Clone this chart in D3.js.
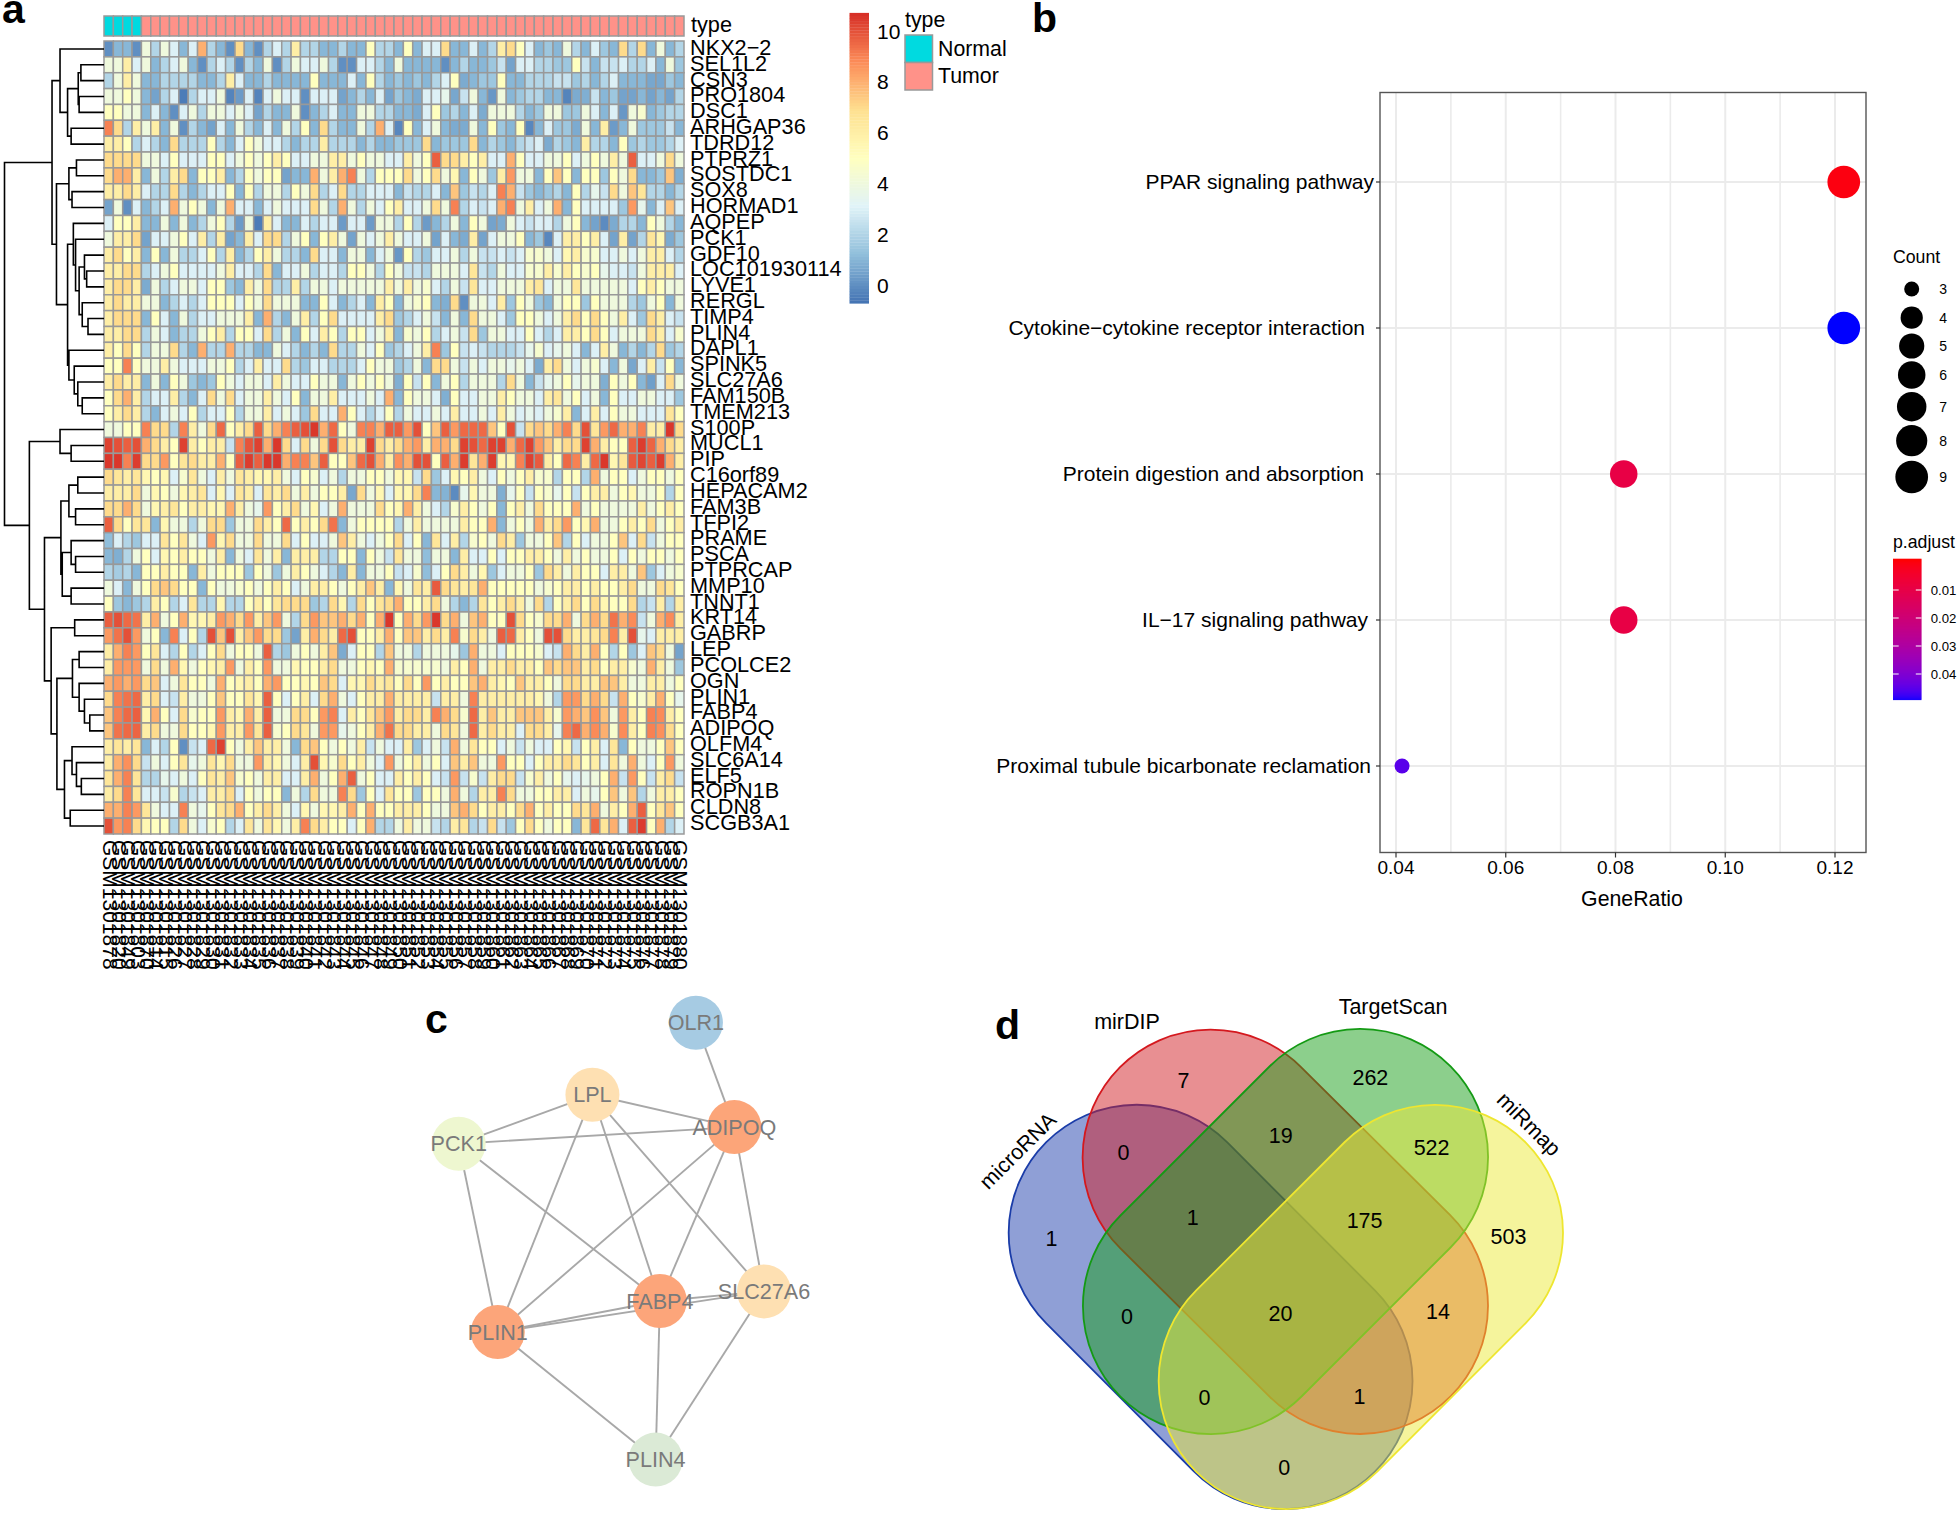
<!DOCTYPE html>
<html><head><meta charset="utf-8"><script src="https://cdn.jsdelivr.net/npm/d3@7"></script>
<style>html,body{margin:0;background:#fff}svg{display:block}text{font-family:"Liberation Sans",Arial,sans-serif}</style></head>
<body><svg id="c" width="1959" height="1516"></svg>
<script>
// ---------- panel a data ----------
const genes=["NKX2−2","SEL1L2","CSN3","PRO1804","DSC1","ARHGAP36","TDRD12","PTPRZ1","SOSTDC1","SOX8","HORMAD1","AQPEP","PCK1","GDF10","LOC101930114","LYVE1","RERGL","TIMP4","PLIN4","DAPL1","SPINK5","SLC27A6","FAM150B","TMEM213","S100P","MUCL1","PIP","C16orf89","HEPACAM2","FAM3B","TFPI2","PRAME","PSCA","PTPRCAP","MMP10","TNNT1","KRT14","GABRP","LEP","PCOLCE2","OGN","PLIN1","FABP4","ADIPOQ","OLFM4","SLC6A14","ELF5","ROPN1B","CLDN8","SCGB3A1"];
const sampleSuffix=["78","20","49","03","70","14","15","26","27","28","29","30","31","32","33","34","35","36","37","38","39","40","41","42","43","44","45","46","47","48","49","50","51","52","53","54","55","56","57","58","59","60","61","62","63","64","65","66","67","68","69","70","71","72","73","74","75","76","77","78","79","80"];
const sampleTypes=["Normal","Normal","Normal","Normal","Tumor","Tumor","Tumor","Tumor","Tumor","Tumor","Tumor","Tumor","Tumor","Tumor","Tumor","Tumor","Tumor","Tumor","Tumor","Tumor","Tumor","Tumor","Tumor","Tumor","Tumor","Tumor","Tumor","Tumor","Tumor","Tumor","Tumor","Tumor","Tumor","Tumor","Tumor","Tumor","Tumor","Tumor","Tumor","Tumor","Tumor","Tumor","Tumor","Tumor","Tumor","Tumor","Tumor","Tumor","Tumor","Tumor","Tumor","Tumor","Tumor","Tumor","Tumor","Tumor","Tumor","Tumor","Tumor","Tumor","Tumor","Tumor"];
const exprLeft=[
[0,1,1,0,4,2,4,3,1,3,8,2,1,0,7,1,0,2,3,2,6,2,2,1,1,2,1,1,5,2,2],
[4,4,6,3,4,1,2,3,4,1,0,2,3,2,0,2,1,4,0,2,4,3,3,4,2,0,0,3,3,2,1],
[2,4,6,4,1,1,2,2,2,2,1,1,2,6,3,1,1,2,1,1,1,1,5,1,1,1,3,1,5,2,1],
[4,4,5,4,1,.5,2,3,-.5,2,3,3,4,-.3,.3,3,-.3,3,4,3,3,0,3,3,3,.5,1,2,1,3,.5],
[5,5,4,4,1,3,1,0,3,4,2,4,4,3,4,3,.5,2,1,1,4,0,1,2,3,1,1,4,4,2,2],
[9,7,2,6,4,6,1,4,0,2,1,.5,3,1,4,2,1,3,1,4,2,5,1,7,2,1,1,4,2,8,3],
[6,6,5,2,3,2,1,7,2,2,2,5,2,1,3,5,4,3,3,2,1,2,2,6,2,2,2,1,2,1,1],
[7,7,7,7,4,4,3,5,3,3,3,5,5,3,4,5,4,5,6,5,3,3,4,4,6,6,4,5,4,4,3],
[7,8,8,6,1,4,2,6,7,1,5,5,6,1,2,5,4,5,5,.5,1,1,8,4,6,8,9,4,2,5,5],
[6,6,7,6,3,2,2,7,2,1,2,3,3,5,1,5,2,4,4,2,5,4,7,2,3,7,2,2,3,3,3],
[.5,4,0,3,1,2,3,8,4,5,4,1,4,8,3,3,1,3,4,3,3,3,7,4,2,8,4,2,4,3,5],
[3,5,5,6,1,1,4,1,4,1,2,4,5,2,.3,4,-.5,6,3,1,1,3,2,3,3,.3,3,3,.3,4,4],
[4,6,6,7,.5,3,3,4,5,3,6,2,6,.5,1,6,3,7,7,2,4,5,1,5,6,4,.5,4,3,4,6],
[6,7,5,6,1,5,1,4,2,2,3,5,2,6,1,2,5,6,4,2,2,1,7,3,3,1,4,4,1,3,4],
[6,6,7,7,2,3,4,5,3,3,3,3,4,6,3,3,2,7,1,3,3,4,2,3,3,2,5,5,4,2,5],
[6,7,7,6,.7,4,2,3,4,4,3,5,5,1.5,1,6,4,7,2,2,6,2,4,4,3,4,4,4,4,4,6],
[6,7,6,6,4,4,1,2,3,2,3,5,5,5,3,5,4,7,4,4,4,1,1,5,3,1,2,3,1,6,5],
[6,7,7,7,1,5,3,1,4,2,3,3,4,4,4,6,1,8,2,1,4,6,2,5,7,3,3,3,3,6,7],
[6,6,7,7,2,4,3,1,2,2,4,5,6,2,5,5,3,7,2,4,1,5,3,6,5,2,5,5,3,4,6],
[6,5,7,5,2,4,4,7,2,1,8,2,2,8,2,2,1,1,4,3,2,1,2,1,7,2,2,4,3,5,1.5],
[5,5,9,5,4,4,6,4,3,3,3,4,4,5,2,3,6,3,3,7,2,1.5,3,3,2,2,2,3,5,4,4],
[6,7,6,6,1,4,1,5,4,1.5,1,1.5,5,4,3,4,4,3,6,4,3,3,5,4,4,1,4,5,4,5,4],
[5,7,8,6,2,3,3,6,2,1,3,7,4,7,3,4,4,6,4,3,5,1,4,4,6,3,3,3,4,3,8],
[5,6,7,6,2,1,3,4,3,5,2,3,3,5,2,4,4,6,3,4,3,1.5,7,3,3,8,5,3,2,3,5],
[4,4,5,5,9,7,7,2,9,6,4,7,9.5,5,6,7,9.7,7,8,9,9.7,10,10.5,8,9.5,5,4,9,9,8,9.7],
[10.3,10,9.7,10,8,7,6,5,10.3,6,5,6,6,2.5,9,9.9,10.3,8,10.5,7,3,7,4,7,10,7,6,6,10.3,7,6],
[10.5,10.5,9,10.4,7,7,8.5,5,6.5,7,6,6,8,5,9.7,10.4,9.7,10.5,10.5,8,9,9,7.5,9.7,5,5,7.5,9.5,10,8,6],
[7,6.5,6,6.5,5.5,5,5.5,3,4.5,6.5,4,3,6,4,6.5,6,5.5,5.5,6,4,3,5,4.5,3,4,2,4,4,5,5,4],
[6,6,6,7,4,5.5,5,4,5.5,6,6.5,3,5.5,3,6.5,6,3,6.5,6,7,4,6,4,5,5,6,.6,7,4,5.5,3],
[7,7,8,7,4,5.5,6,6.5,5,6,6,5.5,5.5,8,6,4,3.5,8.5,5,6,7,4,5.5,3,4,8,4,4,4,7,5],
[9.7,7,5,6.5,6.5,1,5.5,4,4,2,4,7,7,1.5,4,4,7,6,5,9.5,5,6,5,7,9.3,1,4,5,5,5,5],
[1.2,3,2,1.5,3,3,6.5,5,6.5,4,3,8.5,5.5,7,4,4,7,4,4,7,3,5,3,3,4,7.5,6,4,3,4,5],
[1,.8,2,4,5,3,5.5,5,6,5,5,4,6,1,4,3,6.5,4,6,1,6,6,6,2,2,5,5,1,5,4,2.5],
[2,1.7,2,1,5,5,6,5,5,1,6,4,5,5,5,1.5,5,4,1.5,4,6,5,4,3,2,1,6,1,4,4,5],
[4,3,1,4,5,7,7.5,7,5,5,1,5,4,4,4.5,5,4,5,6,5,3,4,6,6,5,4,5,6,7.5,6,1],
[5,1.5,1,1.5,2,6,5,2,3,6.5,2,2,5.5,2,2,5,6,5,6.5,7,7,7,1.5,2,7,5.5,2,7,5,6.5,7],
[9.7,10,9.5,9.3,6,8,4,5,8,5.5,5.5,6,8.5,8,7,8.5,6,7.5,8.5,4,2,7,8.5,7.5,7.5,8,7,8,5,8,10.5],
[8.5,9.3,10,8.5,4,5,1,9,3,5,2,10,7.5,10,6,7.5,8.5,7,7,1.5,.5,6,8,7,6,9.5,10,5,5,6,8],
[6,8,9,8.5,5,6.5,3,2,5,2,3,5,7,4,5,5,4,9.7,2,1.5,4,5,4,6,7.5,.7,3,5,5,2,7.5],
[6,8.5,8.5,8.5,4,7,4,8,5.5,4,5,5.5,6,8.5,4,6,5,8.5,4,4,5.5,5,5,6,7,4,4,5,5.5,5,8],
[8,8.5,8,8.5,7,7.5,3,4,6.5,5,5,4,8,5,5.5,6,5,8,8.5,5,5,5.5,5,7.5,7,3,5.5,5.5,7,6,6.5],
[7,9,9.3,9.5,6,7,3,2.5,6,4,4,5,7.5,5,5,6.5,5.5,9.7,5,3,5,6,3,7,8,4,3,5,6,6,8],
[7.5,9,9.5,9.7,5.5,8,5,3,7,4.5,5,5,8.5,6,5.5,8,6,9.7,4,4,7,7,5,8.5,9,3,6,5,6.5,7.5,8.5],
[7.5,9.3,9.5,9.6,6,7,4,4,7,5,5,5.5,8.5,6,6,8.5,6.5,9.7,4.5,5,7,6.5,4,8.5,8.5,3.5,4,5,6,8,9.3],
[6,6.5,6,6.5,1,3,2,5,0,2.5,3,9.5,10.3,5,4,6,7.5,6,6,4,1,7,7.5,5,4,5,4,6,2.5,4,3],
[6,8,8.7,7,2.5,4,3,5,6.5,3.5,4,6.5,5.5,7,4,4,8.5,6,5.5,4,3,6,10,5.5,4.5,7,5,6,4,3,8.5],
[6.5,8,9,6.5,2,2,3.5,3,4,3,5,6.5,6,7.5,4.5,5,4,6,6,3,3,6,8,4,5,8,9.7,4,5,3,3],
[6,7,9,6.5,3,3,2.5,4.5,2,2.5,3,6,6,7,3,5,4,5,5,1,4,2,7,4,4,9,7,1.5,5,3,6.5],
[8,8,9,8.5,6.5,4,3,3,9,4,3.5,5,6.5,7,8,5,6,7,6,4,3,5.5,4,5.5,5.5,6,8,5,8,5,5],
[10,8.5,9,7,5.5,5,5,2,7,4,3,4.5,5,2,3,6.5,4,6.5,5.5,4,6,9,7,6,5,5,3,5,8,2,2]];
const exprRight=[
[1,5,1,3,3,7,1,1,3,1,2,6,7,5,3,1,1.5,1,4,2,1,3,1.5,1,7,2,7,1,4,1,2],
[4,1,1,1,1,0,1,2,1,1,1.5,2.5,.5,3,3,2,2,1.5,1.5,5,2.5,1,2.5,2.5,3,2,2,3,1,4,1.5],
[1.5,1,1.5,1,2,3,5,.7,1,1.5,1.5,5,1,1,2,2,2,2.5,2.5,1.5,2,1,2,3,1,1,1,.6,.6,1.5,1],
[1.5,1,.7,3,3,3.5,.6,2.5,4,1,.2,4,1,1.5,2,2,1,1,-.3,.7,.8,2.5,1,1.5,.5,.5,1,.5,1,.5,2],
[1,1,.7,3,5,1.5,2,1,3,.7,4,4,4,2,1,1.5,4,4,1.5,1.5,4,3,1,3,.2,4,4.5,1,1.5,2,2],
[-.2,5,1,3,4,1,.7,.7,4,1,5,1.5,1,5,-.2,1,3,1.5,1.5,.7,4,1,6,.3,1,4,1.5,1.5,1.5,2.5,1],
[1.5,1.5,1.5,7,1,1.5,1.5,1.5,7,1,2,1.5,1,2,2.5,3,.7,2,1.5,1,6,2,2,1,5,1.5,2,1.5,1.5,2,3],
[3,6,4,5,9.7,7,7,6,5,6,3,3,8,5,3,3,4,4,5,3,4,5,4,6,4,9.7,3,3,4,7,4],
[5,7,4,5,7,4,5.5,1,5,4,1.5,6,8.5,4,4,1,5,7.5,5,1,5,5,1.5,5,4,7,1,1,1.5,7.5,.8],
[1,2.5,2,2,3,1,7.5,1.5,2.5,2,3,9,8,2.5,1.5,1,1.5,2,1,5,2,3.5,2.5,7,4,7.5,6.5,2,2,1,2],
[6,3,3,4,7,4,9,2,3,2.5,3,8,9,4,6,3,4,8,1,5,3,3,3,3,1.5,8.5,3.5,1,3,7.5,3],
[2,5,2,.3,1,2,4,1,5,4,.5,.7,4,3,2.5,3,3,2,4,5,1,.5,-.1,.7,2,2,1,5,4,2,1],
[4,3,3,4,.5,3,1,.7,6,.5,3,4,4,5,1,1.5,-.2,3,6,6,5,6,3,.5,6,.5,2,6.5,5.5,.7,1.5],
[.2,5,2,1.5,3,3,4,2,4,2.5,2.5,3,2.5,3,4.5,4.5,4,3,5.5,6,4.5,4.5,3,3,4,3,4,6,6,3,2],
[4,2.5,2.5,2,4,4,4,3,6.5,2.5,2,4,3,3,4.5,4.5,6,4.5,6,5,4.5,5,3.5,3,3,2.5,4,6,6,6,3],
[4,6,4,4.5,3,2,4,2.5,6.5,3,3,4,4,4,6,6.5,3,4,4,6.5,4,4,4,4,4,3,5,6,5,4,4],
[1,4,4.5,5,1,.8,7,0,4,4,3,6,1.5,5,4,1.5,1,4,5,5,1.5,5,4,4,4,2,1.5,4,5,1,4],
[1.5,2,3,4,2.5,1,4,1,7,4,4,3,1.5,5,5,4,3,4,6,7,5,7,5,4,6,3,1.5,7,6,3,2.5],
[1,4.5,4,5,2,3,4,2.5,7,1.5,4,4,3,3,5,3,2,3,6,6,5,7,5,3,4,4,4,7,6,3,4.5],
[2,3,4,6,9,1.5,5,2.5,3,2.5,2,2,2,2.5,3.5,4.5,3,3.5,4,3,1,3,6,4,1,2,1,2,7,1.5,2],
[1.5,2,4,1,7,7,4,2.5,4,3,4,4,3.5,4,3,.7,6,7,4,3,4,4.5,3,1,4,.6,3,6,2.5,5,1],
[.8,5,2.5,5,1,4,5,2,4,4,4,2,7,4,1,2.5,3.5,4,5,3.5,4,4,.8,5,4,5,1,.4,3,7,4],
[1,5,4,4,3,.8,5,3,3,4,4,6,5,4,4,3,6,6.5,4,5,3,4,1,5,3,3,4,4,3,3,1.5],
[2,4,3,3,4,3,6,3,3,4,3,6,4,3,3.5,3,4,4.5,6,1,3,6,3,5,4,4,3,3,3,6.5,5],
[9.7,8.5,10,5,7.5,9.7,8.5,9.5,9.5,9.5,7.5,5,10,2.5,7,7.5,7,8,9,7,10,6.5,8.5,9.5,8,8,9,6,6,10.5,7],
[7,8,8.5,6,8,8,7,10.3,10,9.5,10.3,10.3,8,9.5,10.3,8.5,7.5,6,7,7,10.3,8,6,5,5,9.7,10.4,9.6,8,7,6],
[8.7,8,10,10,5,9.7,8,10.4,6.5,8,10.4,5.5,5.5,9,10.3,9.8,6,5,9.5,9,6,9.5,10.5,5.5,6.5,9.8,10.2,9.7,10.4,8,6],
[5.5,5.5,2.5,7,1.5,3,5.5,5,6,4,3,5,4,5,6,4.5,4.5,2,5,5,2,8,4,5,5,3,4,5,5,4,5],
[5.5,5.5,7,9,1,.9,-.1,3.5,5.5,4,4,.8,3.5,5,2.5,5,4.5,3.5,5,2.5,5,6,6,4,5,5.5,4,4,5,2,5],
[5.5,8,6,4,3,2,4.5,6,5,4,5,1,5,6,4,7,5,5,5,8,4,5,4,4,4,4,6,4,5,6,5],
[2,4,6,4,4,4,4,6,5,5,8,1,4,5,4,8,6,7,8.5,5,5.5,8,4,4,5,6,5,7,4,5,6],
[7,3,5,1,6.5,3,6,2,4.5,5,4,7,6,1.5,4,4,5,7.5,2,5,3,4,4,5,7.5,3,7,2.5,4,5,5],
[6.5,4,4,1.2,4,4,1,6,3,3,5,3,5,5,6,6,5,4,6,4,5,4,4,5,3,5,4,5,5,4,5],
[2.5,3,4.5,1.2,3,5,7,6,4,5.5,1.5,3,4,4,5,1.5,7,6,4,6,5,5,3,6,6,4,7.5,1.5,3,4,4.5],
[5.5,4,6.5,6,9.8,7,6.5,6,6.5,8,5,5,5,5,5,4,4.5,5,6,6,5,6,5,5,6,7,4,4,7,6.5,5],
[8,5,5,6,7,4,2,1,2,6.5,5,6,7,6,4,7,2,5,6,7,5,7,5.5,5,5,7,2,2.5,6,2,6],
[5,8,7,8.5,10.5,7,8,4,7.5,8,5,5,10,7,5,4.5,7,7,8,4,7,8,7,9.3,8,8.8,2.5,4,8,8.8,6],
[5,7.5,7.5,6,7,6,9,4.5,7,6,4,9.7,9.5,6,5,4,10,10,7,6,6,6.5,7,9,6,10,3.5,3,6,6,6],
[4,4,2,4,4,4,3.5,1.5,8,4,4,3,5,5,5,4.5,3,2.5,8,7,6,8,5,2,5,1.5,3,7.5,7,4,.5],
[4.5,4.5,4.5,4.5,4.5,4,6,5,8,4,6,6,7,6,6,5,7.5,7,7.5,7.5,6,7,5,6,6,4.5,4,8,6,4,1.5],
[5,7,5,8.5,5,6,5,5,7.5,8,6,5.5,5,7.5,6,6,5,4,7,7,6,6,7.5,7.5,6,4,4,6,6,4,5],
[6,6,6,6,2.5,6,6,4,9,6,6,6,6,6,6,5.5,4,2,8.5,8.5,7,8,7,2.5,8,5,4.5,6,8,5,3.5],
[6,7,7,6,9,8,7,4.5,9.5,6,7.5,6,6,7.5,7.5,7.5,6,4.5,8.5,8,7.5,8.7,7.5,4,8.5,6,5,9,8.8,6,5],
[7,7,6,6,4,7,6.5,4,9.5,6,7,6,6,3,7,7,6,3.5,9,9.5,8,8.8,8,4.5,8.8,6,5,9,8.7,7,5],
[3,6,1.5,3,4,2.5,8,4,6.5,5,5,3,4,2.5,4,3,3,5,5.5,2.5,5,6,3,6.5,1,5,4,4,5,7.5,5],
[4,5,6,4,5,3,7.5,6,7.5,4,4,8.5,5,5,3,5,6,6,7,6.5,5,6,3,6.5,4,8,4,3,5,8.5,4],
[6,5,6,5,3,2.5,8.5,2.5,4.5,2.5,6,7,7,2.5,4.5,6,4,5,3.5,3,3.5,4,5,8,2.5,8.5,5,2.5,6,7,2.5],
[5,5,1.5,5,5,4,8,4,2,6,6,9,7,4,4,5,5,6,6,3,4,3.5,5,7.5,4,7.5,2,4,6,6,5],
[6,6,6,5,4,4,7.5,8,7,5,6,6,5,7,8,5,6,5,5,7,6.5,8,4,6,5,8,9.7,5,6.5,7.5,5],
[4,6,4,4,2.5,2,6,6.5,2,2.5,7,2.5,1.5,5,7,5,4,5,5,1,6.5,9.5,6.5,8,3,9.7,10.4,5,8,2,3]];
// row dendrogram: [merge height, child, child]; a number is a row index
const rowTree=[224,
 [117,[99,0,[82,[58,[52,1,2],[56,3,4]],[74,5,6]]],
  [107,[79,[62,7,8],[72,9,10]],
   [82,[69,11,[64,12,[56,[44,13,[39,14,15]],[49,16,[36,17,18]]]]],
       [79,19,[67,20,[59,21,[49,22,23]]]]]]],
 [168,[99,24,[74,25,26]],
  [134,[97,[79,[59,27,28],[64,29,30]],[94,[74,31,[64,32,33]],[74,34,35]]],
   [119,[66,36,37],
    [106,[71,[56,38,39],[56,40,[44,41,[32,42,43]]]],
         [89,[72,44,[62,45,[51,46,47]]],[76,48,49]]]]]]];
const heatStops=["#4575B4","#91BFDB","#E0F3F8","#FFFFBF","#FEE090","#FC8D59","#D73027"];
const heatTicks=[0,2,4,6,8,10];
const typeNames=["Normal","Tumor"];
const typeColors=["#00DAE0","#FF9289"];
// ---------- panel b data ----------
const pathways=["PPAR signaling pathway","Cytokine−cytokine receptor interaction","Protein digestion and absorption","IL−17 signaling pathway","Proximal tubule bicarbonate reclamation"];
const geneRatio=[0.1216,0.1216,0.0815,0.0815,0.0411];
const counts=[9,9,6,6,3];
const pAdjust=[0.0002,0.0493,0.0092,0.0092,0.045];
const countLegend=[3,4,5,6,7,8,9];
const ratioTicks=[0.04,0.06,0.08,0.10,0.12];
const ratioMinor=[0.05,0.07,0.09,0.11];
const pTicks=[0.01,0.02,0.03,0.04];
// ---------- panel c data ----------
const netNames=["OLR1","LPL","ADIPOQ","PCK1","SLC27A6","FABP4","PLIN1","PLIN4"];
const netX=[77.7,43.8,90.3,0,100,65.9,12.8,64.5];
const netY=[0,16.5,23.9,27.7,61.5,63.7,70.8,100];
const netColors=["#A6CBE3","#FEE0B2","#FCA579","#EEF7D0","#FEE0B2","#FCA57A","#FCA57A","#DBEAD6"];
const netEdges=[["OLR1","ADIPOQ"],["LPL","ADIPOQ"],["LPL","PCK1"],["LPL","PLIN1"],["LPL","FABP4"],["LPL","SLC27A6"],["ADIPOQ","PCK1"],["ADIPOQ","PLIN1"],["ADIPOQ","FABP4"],["ADIPOQ","SLC27A6"],["PCK1","PLIN1"],["PCK1","FABP4"],["FABP4","PLIN1"],["SLC27A6","PLIN1"],["FABP4","SLC27A6"],["PLIN1","PLIN4"],["FABP4","PLIN4"],["SLC27A6","PLIN4"]];
// ---------- panel d data ----------
const vennNames=["microRNA","mirDIP","TargetScan","miRmap"];
const vennFill=["#1F3FAE","#D21F26","#1AA01A","#ECEA3A"];
const vennStroke=["#1A3CA8","#D4181E","#149A14","#EEE630"];
const vennAx=[128,201.9,351.3,426.3],vennAy=[204.3,129.1,128.5,204.3];
const vennBx=[275.8,351.3,202.3,278],vennBy=[352.5,277.5,277.5,352.5];
const vennCounts=[1,0,7,19,262,522,503,175,1,0,20,14,0,1,0];
const vennCountX=[42.9,114.8,174.9,272.1,361.7,422.9,499.8,355.9,184.1,118.3,271.7,429.3,195.9,350.9,275.5];
const vennCountY=[210.3,123.5,51.7,107.1,48.6,118.7,207.9,191.5,189.1,288.3,284.8,283.1,368.5,367.9,438.7];

// ---------- drawing ----------
const svg=d3.select("#c");
const panelLetter=(t,x,y)=>svg.append("text").attr("x",x).attr("y",y).attr("font-size",41).attr("font-weight",700).text(t);
panelLetter("a",2,23);panelLetter("b",1032,32);panelLetter("c",425,1033);panelLetter("d",995,1039);

// PANEL A
const expr=exprLeft.map((r,i)=>r.concat(exprRight[i]));
const samples=sampleSuffix.map(s=>"GSM13018"+s);
const colX=d3.scaleBand().domain(d3.range(samples.length)).range([104,684]);
const rowY=d3.scaleBand().domain(d3.range(genes.length)).range([41,834]);
const labelY=d3.scaleBand().domain(d3.range(genes.length)).range([39.5,830.5]);
const vMin=-0.67,vMax=10.65;
const heatColor=d3.scaleLinear().domain(d3.range(heatStops.length).map(i=>vMin+(vMax-vMin)*i/(heatStops.length-1))).range(heatStops).clamp(true);
const GRID="#999999";
const gA=svg.append("g");
gA.selectAll("rect.t").data(sampleTypes).join("rect").attr("class","t")
 .attr("x",(d,i)=>colX(i)).attr("y",16).attr("width",colX.bandwidth()).attr("height",20)
 .attr("fill",d=>typeColors[typeNames.indexOf(d)]).attr("stroke",GRID).attr("stroke-width",1.5);
expr.forEach((row,r)=>{
 gA.append("g").selectAll("rect").data(row).join("rect")
  .attr("x",(d,c)=>colX(c)).attr("y",rowY(r)).attr("width",colX.bandwidth()).attr("height",rowY.bandwidth())
  .attr("fill",d=>heatColor(d)).attr("stroke",GRID).attr("stroke-width",1.5);
});
gA.selectAll("text.g").data(genes).join("text").attr("class","g").attr("x",690).attr("y",(d,i)=>labelY(i)+labelY.bandwidth()/2+7.5)
 .attr("font-size",21.7).text(d=>d);
gA.append("text").attr("x",691).attr("y",32).attr("font-size",21.7).text("type");
gA.selectAll("text.s").data(samples).join("text").attr("class","s")
 .attr("transform",(d,i)=>`translate(${colX(i)+colX.bandwidth()/2-6},840) rotate(90)`)
 .attr("font-size",21).text(d=>d);
// dendrogram
const treeX=d3.scaleLinear().domain([0,224]).range([104,4.5]);
const dPath=d3.path();
(function walk(n){
 if(typeof n==="number") return {x:treeX(0),y:rowY(n)+rowY.bandwidth()/2};
 const a=walk(n[1]),b=walk(n[2]),x=treeX(n[0]);
 dPath.moveTo(a.x,a.y);dPath.lineTo(x,a.y);dPath.lineTo(x,b.y);dPath.lineTo(b.x,b.y);
 return {x,y:(a.y+b.y)/2};
})(rowTree);
svg.append("path").attr("d",dPath.toString()).attr("fill","none").attr("stroke","#000").attr("stroke-width",1.6);
// heat legend
const legY=d3.scaleLinear().domain([0,10]).range([285,31]);
const legSteps=d3.range(100).map(i=>vMin+(vMax-vMin)*i/99);
svg.append("g").selectAll("rect").data(legSteps).join("rect").attr("x",849.5).attr("width",19.5)
 .attr("y",d=>legY(d)-1.6).attr("height",3.2).attr("fill",d=>heatColor(d));
svg.append("g").selectAll("text").data(heatTicks).join("text").attr("x",877).attr("y",d=>legY(d)+7.5).attr("font-size",21).text(d=>d);
// type legend
svg.append("text").attr("x",905).attr("y",27).attr("font-size",21.3).text("type");
const typeY=d3.scaleBand().domain(typeNames).range([35,90]);
svg.append("g").selectAll("rect").data(typeNames).join("rect").attr("x",905).attr("y",d=>typeY(d)).attr("width",27.5).attr("height",typeY.bandwidth())
 .attr("fill",(d,i)=>typeColors[i]).attr("stroke",GRID).attr("stroke-width",1.5);
svg.append("g").selectAll("text").data(typeNames).join("text").attr("x",938).attr("y",d=>typeY(d)+typeY.bandwidth()/2+7).attr("font-size",21.3).text(d=>d);

// PANEL B
const L=1380,R=1866,T=92.5,B=852.5;
const xB=d3.scaleLinear().domain([0.04,0.12]).range([1396,1835]);
const yB=d3.scalePoint().domain(pathways).range([182,766]);
const rB=d3.scaleSqrt().domain([0,6]).range([0,8.85]);
const sizeR=c=>7.5+rB(c-3);
const pY=d3.scaleLinear().domain([0.01,0.04]).range([590,674]);
const pTop=558.7,pBot=700;
const pCol=d3.scaleLinear().domain([pY.invert(pTop),pY.invert(pBot)]).range(["#ff0000","#0000ff"]).interpolate(d3.interpolateLab).clamp(true);
const gB=svg.append("g");
gB.selectAll("line.m").data(ratioMinor).join("line").attr("class","m").attr("x1",d=>xB(d)).attr("x2",d=>xB(d)).attr("y1",T).attr("y2",B).attr("stroke","#ebebeb").attr("stroke-width",1.6);
gB.selectAll("line.M").data(ratioTicks).join("line").attr("class","M").attr("x1",d=>xB(d)).attr("x2",d=>xB(d)).attr("y1",T).attr("y2",B).attr("stroke","#ebebeb").attr("stroke-width",2);
gB.selectAll("line.h").data(pathways).join("line").attr("class","h").attr("y1",d=>yB(d)).attr("y2",d=>yB(d)).attr("x1",L).attr("x2",R).attr("stroke","#ebebeb").attr("stroke-width",2);
gB.append("rect").attr("x",L).attr("y",T).attr("width",R-L).attr("height",B-T).attr("fill","none").attr("stroke","#555").attr("stroke-width",1.4);
const labelEnd=[1374,1365,1364,1368,1371];
gB.selectAll("text.p").data(pathways).join("text").attr("class","p").attr("text-anchor","end").attr("x",(d,i)=>labelEnd[i]).attr("y",d=>yB(d)+7).attr("font-size",21).text(d=>d);
gB.selectAll("line.yt").data(pathways).join("line").attr("class","yt").attr("x1",L-4).attr("x2",L).attr("y1",d=>yB(d)).attr("y2",d=>yB(d)).attr("stroke","#333").attr("stroke-width",1.2);
gB.selectAll("line.xt").data(ratioTicks).join("line").attr("class","xt").attr("x1",d=>xB(d)).attr("x2",d=>xB(d)).attr("y1",B).attr("y2",B+5).attr("stroke","#333").attr("stroke-width",1.2);
gB.selectAll("text.x").data(ratioTicks).join("text").attr("class","x").attr("text-anchor","middle").attr("x",d=>xB(d)).attr("y",B+21).attr("font-size",19).text(d=>d3.format(".2f")(d));
gB.append("text").attr("x",1632).attr("y",906).attr("text-anchor","middle").attr("font-size",21.3).text("GeneRatio");
gB.selectAll("circle").data(pathways).join("circle").attr("cx",(d,i)=>xB(geneRatio[i])).attr("cy",d=>yB(d)).attr("r",(d,i)=>sizeR(counts[i])).attr("fill",(d,i)=>pCol(pAdjust[i]));
// size legend
svg.append("text").attr("x",1893).attr("y",263).attr("font-size",17.7).text("Count");
const legSizeY=[289,317.7,346,375,406.7,440.7,477];
svg.append("g").selectAll("circle").data(countLegend).join("circle").attr("cx",1911.7).attr("cy",(d,i)=>legSizeY[i]).attr("r",d=>sizeR(d)).attr("fill","#000");
svg.append("g").selectAll("text").data(countLegend).join("text").attr("x",1939.3).attr("y",(d,i)=>legSizeY[i]+5).attr("font-size",14).text(d=>d);
// p legend
svg.append("text").attr("x",1893).attr("y",548).attr("font-size",17.7).text("p.adjust");
const pSteps=d3.range(141);
svg.append("g").selectAll("rect").data(pSteps).join("rect").attr("x",1893).attr("width",28.5).attr("y",d=>pTop+d).attr("height",1.4).attr("fill",d=>pCol(pY.invert(pTop+d)));
const pg=svg.append("g").selectAll("g").data(pTicks).join("g");
pg.append("line").attr("x1",1893).attr("x2",1898.7).attr("y1",d=>pY(d)).attr("y2",d=>pY(d)).attr("stroke","#fff").attr("stroke-width",1);
pg.append("line").attr("x1",1915.8).attr("x2",1921.5).attr("y1",d=>pY(d)).attr("y2",d=>pY(d)).attr("stroke","#fff").attr("stroke-width",1);
pg.append("text").attr("x",1930.7).attr("y",d=>pY(d)+5).attr("font-size",13.2).text(d=>d);

// PANEL C
const nX=d3.scaleLinear().domain([0,100]).range([458.7,764]);
const nY=d3.scaleLinear().domain([0,100]).range([1022.7,1459.6]);
const nIdx=n=>netNames.indexOf(n);
const gC=svg.append("g");
gC.selectAll("line").data(netEdges).join("line")
 .attr("x1",d=>nX(netX[nIdx(d[0])])).attr("y1",d=>nY(netY[nIdx(d[0])]))
 .attr("x2",d=>nX(netX[nIdx(d[1])])).attr("y2",d=>nY(netY[nIdx(d[1])]))
 .attr("stroke","#a8a8a8").attr("stroke-width",1.9);
gC.selectAll("circle").data(netNames).join("circle").attr("cx",(d,i)=>nX(netX[i])).attr("cy",(d,i)=>nY(netY[i])).attr("r",27).attr("fill",(d,i)=>netColors[i]);
gC.selectAll("text").data(netNames).join("text").attr("x",(d,i)=>nX(netX[i])).attr("y",(d,i)=>nY(netY[i])+7.5).attr("text-anchor","middle").attr("font-size",21.6).attr("fill","#7a7a7a").text(d=>d);

// PANEL D
const vX=d3.scaleLinear().domain([0,554]).range([1008.7,1562.7]);
const vY=d3.scaleLinear().domain([0,480.5]).range([1028.5,1509]);
const vennR=128;
function capsule(i){
 const ax=vX(vennAx[i]),ay=vY(vennAy[i]),bx=vX(vennBx[i]),by=vY(vennBy[i]);
 const ang=Math.atan2(by-ay,bx-ax),p=d3.path();
 p.arc(ax,ay,vennR,ang+Math.PI/2,ang-Math.PI/2,false);
 p.arc(bx,by,vennR,ang-Math.PI/2,ang+Math.PI/2,false);
 p.closePath();
 return p.toString();
}
const gD=svg.append("g");
gD.selectAll("path").data(vennNames).join("path").attr("d",(d,i)=>capsule(i)).attr("fill",(d,i)=>vennFill[i]).attr("fill-opacity",.5).attr("stroke",(d,i)=>vennStroke[i]).attr("stroke-width",1.8);
gD.selectAll("text.n").data(vennCounts).join("text").attr("class","n").attr("x",(d,i)=>vX(vennCountX[i])).attr("y",(d,i)=>vY(vennCountY[i])+7.5).attr("text-anchor","middle").attr("font-size",21.5).text(d=>d);
const vennLabelX=[9.3,118.3,384.3,520,],vennLabelY=[122.5,-6.8,-21.8,95.8],vennLabelRot=[-45,0,0,45];
gD.selectAll("text.l").data(vennNames).join("text").attr("class","l").attr("text-anchor","middle").attr("font-size",21.5)
 .attr("transform",(d,i)=>`translate(${vX(vennLabelX[i])},${vY(vennLabelY[i])}) rotate(${vennLabelRot[i]}) translate(0,7)`).text(d=>d);
</script></body></html>
